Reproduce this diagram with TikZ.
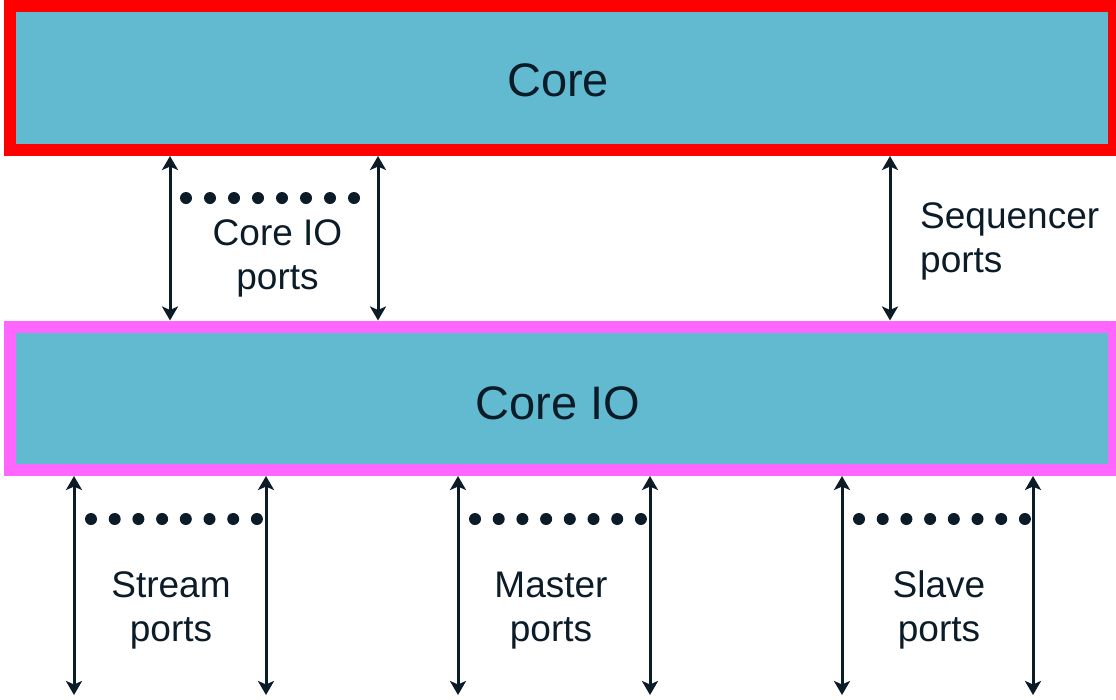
\documentclass[tikz,border=0pt]{standalone}
\usepackage{fontspec}
\setmainfont{Liberation Sans}
\usetikzlibrary{arrows.meta}
\definecolor{boxfill}{HTML}{62BAD0}
\definecolor{coreedge}{HTML}{FF0000}
\definecolor{ioedge}{HTML}{FF66FF}
\definecolor{ink}{HTML}{0B1B27}
\tikzset{
  blockbox/.style={rectangle, fill=boxfill, line width=12pt, inner sep=0pt},
  bigtext/.style={font=\fontsize{47}{56}\selectfont, text=ink, inner sep=0pt, anchor=base},
  portlabel/.style={font=\fontsize{37}{44}\selectfont, text=ink, inner sep=0pt, align=center, anchor=base},
  portarrow/.style={draw=ink, line width=3pt, {Stealth[length=14pt,width=16pt,inset=3.5pt]}-{Stealth[length=14pt,width=16pt,inset=3.5pt]}},
  dotmark/.style={fill=ink}
}
\begin{document}
\begin{tikzpicture}[x=1pt,y=-1pt]
\useasboundingbox (0,0) rectangle (1116,699);
% the two blocks
\node[blockbox, draw=coreedge, minimum width=1104pt, minimum height=144pt] (core) at (562,78) {};
\node[blockbox, draw=ioedge, minimum width=1104pt, minimum height=143.5pt] (coreio) at (562,398.25) {};
\node[bigtext] (coretxt) at (558,96.5) {Core};
\node[bigtext] (coreiotxt) at (558,419) {Core IO};
% ports between Core and Core IO (base anchor = last line's baseline)
\foreach \x/\n in {170/a,378/b,890/c}
  \draw[portarrow] (core.south -| \x,0) -- (coreio.north -| \x,0);
\foreach \i in {0,...,7}
  \fill[dotmark] (186+24*\i,198) circle (6pt);
\node[portlabel] (cioports) at (277.5,289) {Core IO\\ports};
\node[portlabel, align=left, anchor=base west] (seqports) at (920,272) {Sequencer\\ports};
% ports below Core IO
\foreach \x/\n in {74/s1,266/s2,458/m1,650/m2,842/v1,1033/v2}{
  \coordinate (end\n) at (\x,695);
  \draw[portarrow] (coreio.south -| end\n) -- (end\n);
}
\foreach \x in {91,475,859}
  \foreach \i in {0,...,7}
    \fill[dotmark] (\x+23.7*\i,519) circle (6pt);
\node[portlabel] (streamports) at (171,641.5) {Stream\\ports};
\node[portlabel] (masterports) at (551,641) {Master\\ports};
\node[portlabel] (slaveports) at (939,641) {Slave\\ports};
\end{tikzpicture}
\end{document}
